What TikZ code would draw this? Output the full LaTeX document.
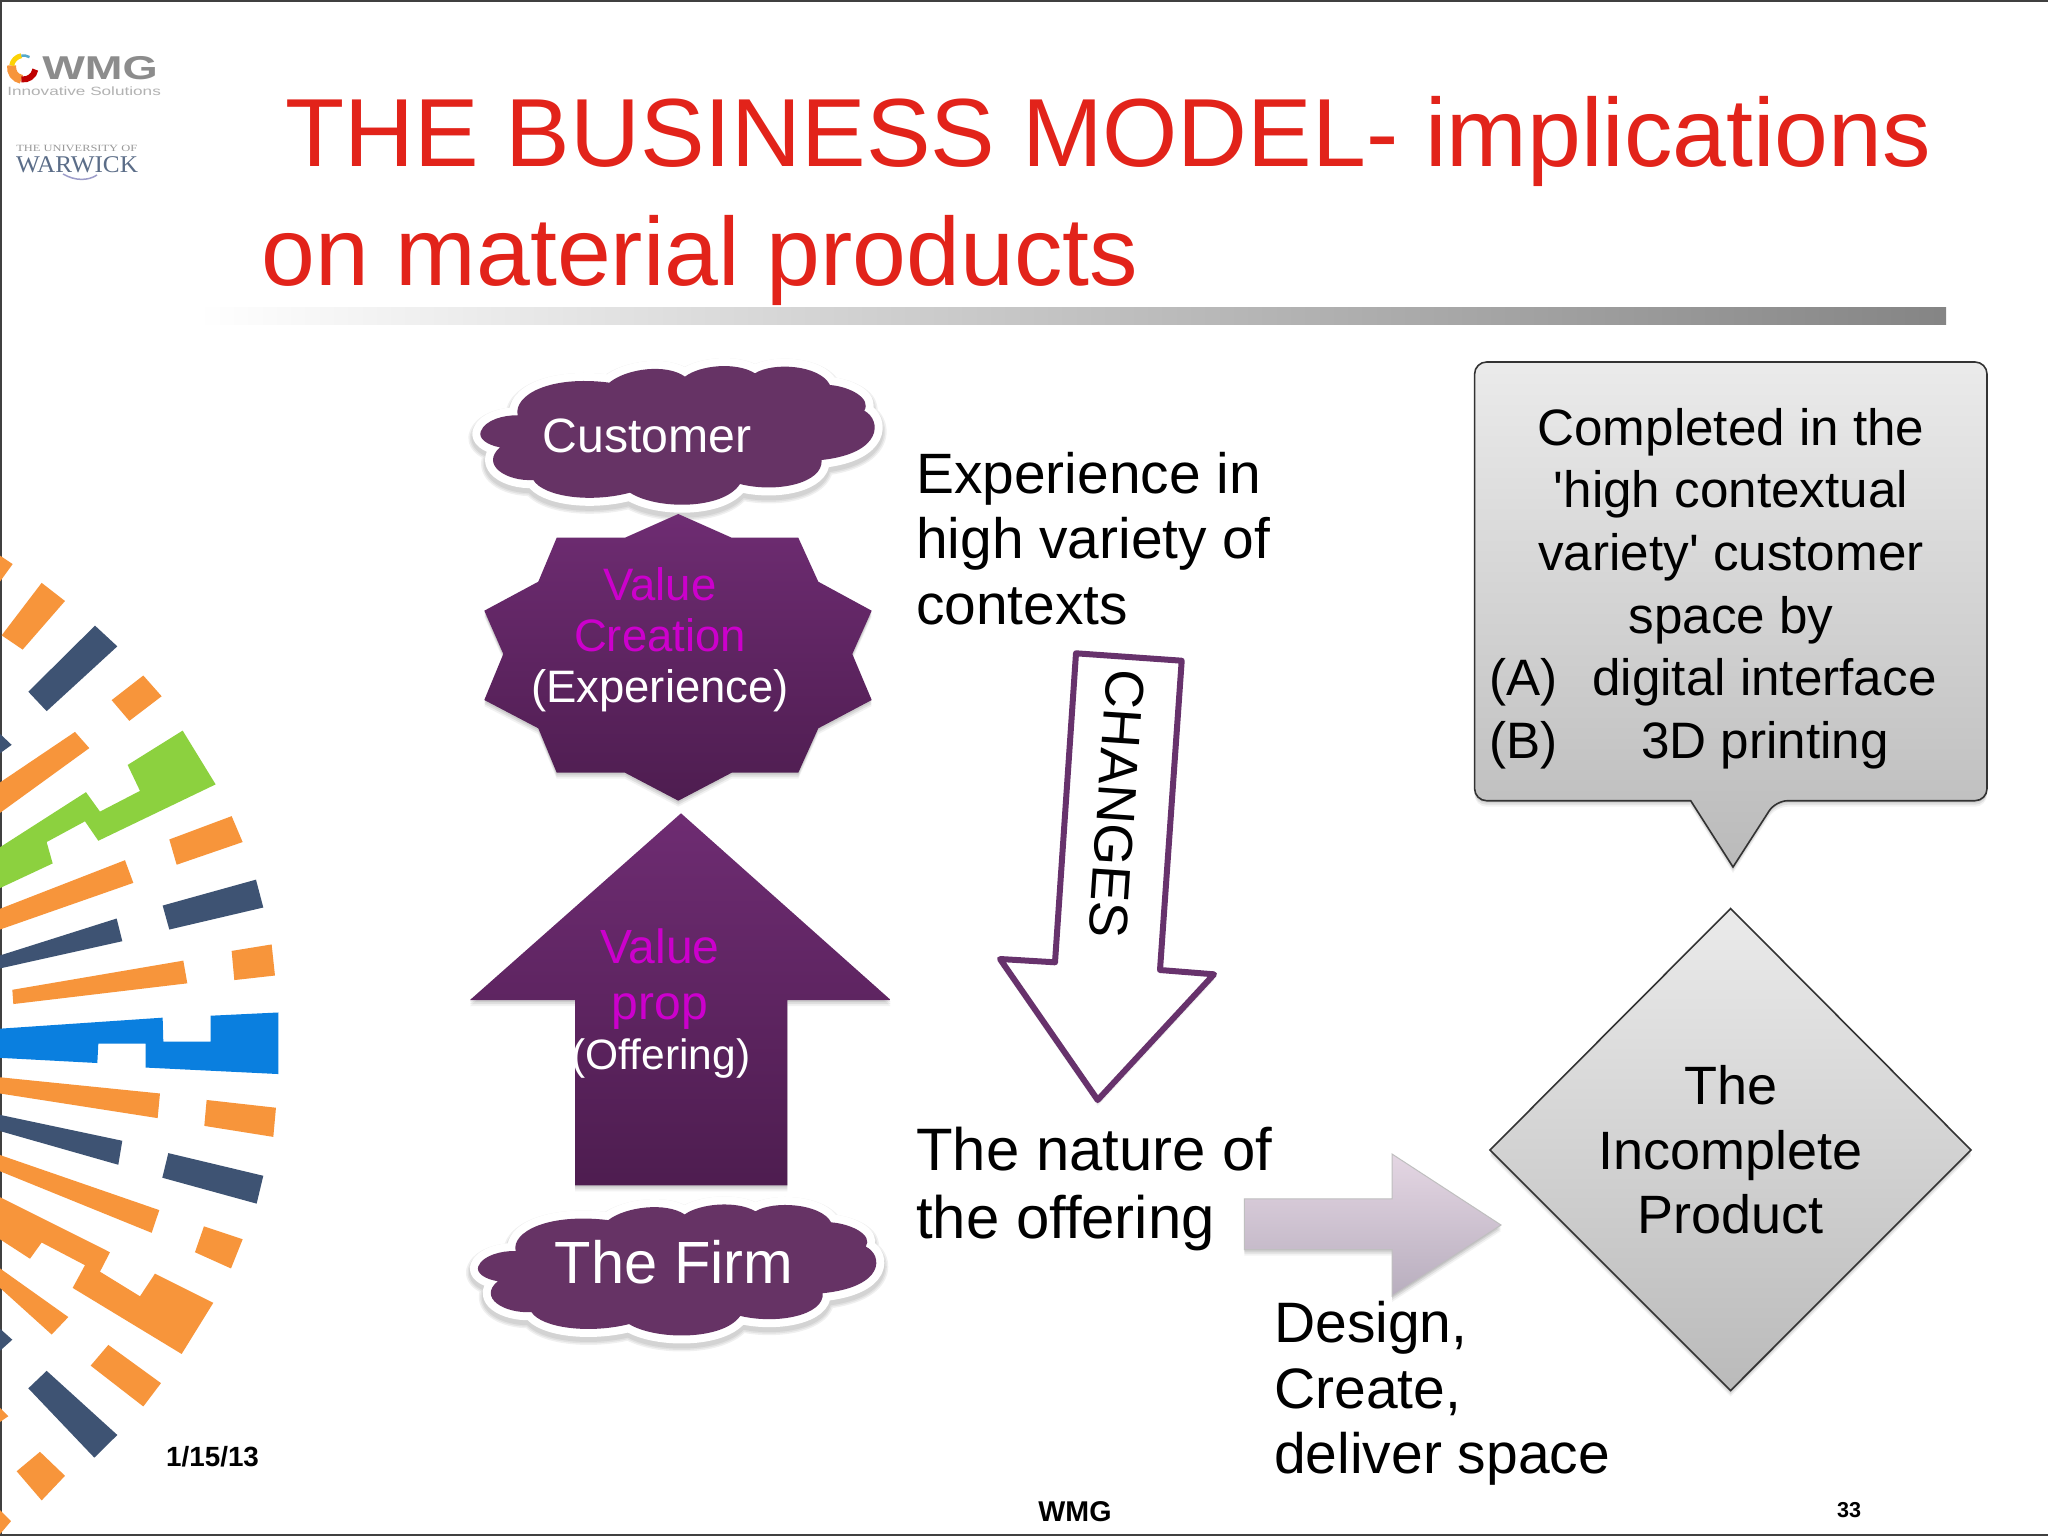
\documentclass[tikz,border=0pt]{standalone}
\usepackage{fontspec}
\setmainfont{Liberation Sans}
\newfontfamily\crestfont{Liberation Serif}
\usetikzlibrary{shadows}

\definecolor{titlered}{HTML}{E2231A}
\definecolor{plumtop}{HTML}{6E2C72}
\definecolor{plumlow}{HTML}{4E1D50}
\definecolor{cloudplum}{HTML}{663365}
\definecolor{valuepink}{HTML}{CC00CC}
\definecolor{outlineplum}{HTML}{67326C}
\definecolor{liliactop}{HTML}{E4D6E3}
\definecolor{liliaclow}{HTML}{B8AEBE}
\definecolor{streakorange}{HTML}{F7953B}
\definecolor{streaknavy}{HTML}{3E5373}
\definecolor{streakgreen}{HTML}{8CD13F}
\definecolor{streakblue}{HTML}{0A7FDF}

\tikzset{
	softshadow/.style={
		drop shadow={shadow xshift=0pt,shadow yshift=-2pt,opacity=.08,fill=black},
		drop shadow={shadow xshift=0pt,shadow yshift=-4pt,opacity=.08,fill=black},
		drop shadow={shadow xshift=0pt,shadow yshift=-6pt,opacity=.05,fill=black}},
	plumshape/.style={top color=plumtop,bottom color=plumlow,softshadow},
	greyshape/.style={draw=black!80,line width=1.6pt,top color=black!8,bottom color=black!27,softshadow},
	lefttext/.style={inner sep=0pt,align=left,anchor=base west,text=black},
	midtext/.style={inner sep=0pt,align=center,anchor=base},
}

% one puff outline, traced around the Customer puff
\newcommand{\puffpath}{(92,275) .. controls (105,240) and (160,225) .. (203,226)
	.. controls (190,165) and (300,105) .. (478,128)
	.. controls (530,85) and (650,70) .. (705,110)
	.. controls (750,75) and (860,65) .. (915,100)
	.. controls (970,65) and (1110,75) .. (1140,135)
	.. controls (1200,140) and (1265,175) .. (1243,212)
	.. controls (1295,240) and (1300,340) .. (1115,360)
	.. controls (1120,430) and (980,460) .. (870,432)
	.. controls (820,510) and (620,510) .. (540,458)
	.. controls (420,490) and (280,470) .. (250,420)
	.. controls (170,425) and (90,375) .. (150,322)
	.. controls (110,315) and (85,295) .. (92,275) -- cycle}
\newcommand{\puff}[3]{
	\begin{scope}[shift={#1},x=#2,y=#3]
	\foreach \wd in {24,21,18} {
		\draw[black,opacity=.06,line width=\wd pt,line join=round,transform canvas={yshift=-4pt}] \puffpath;
	}
	\draw[white,line width=16pt,line join=round] \puffpath;
	\fill[cloudplum] \puffpath;
	\end{scope}
}

\begin{document}
\begin{tikzpicture}[x=1pt,y=-1pt]
\useasboundingbox (0,0) rectangle (2048,1536);
\fill[white] (0,0) rectangle (2048,1536);

% slide edge
\draw[black!75,line width=2pt] (1,1536) -- (1,1) -- (2048,1);
\draw[black!75,line width=2pt] (0,1535) -- (2048,1535);

% sunburst, coordinates as measured in a crop
\begin{scope}[shift={(0,520)},x=.3333pt,y=-.648pt]
\fill[streakorange] (0,55) -- (38,68) -- (0,95) -- cycle;
\fill[streakorange] (5,178) -- (125,97) -- (195,125) -- (68,200) -- cycle;
\fill[streaknavy] (85,265) -- (285,163) -- (352,195) -- (140,295) -- cycle;
\fill[streakorange] (335,278) -- (430,240) -- (485,272) -- (388,310) -- cycle;
\fill[streaknavy] (0,330) -- (35,347) -- (0,360) -- cycle;
\fill[streakorange] (0,405) -- (225,327) -- (268,352) -- (0,452) -- cycle;
\fill[streakgreen] (0,505) -- (258,420) -- (300,450) -- (420,418) -- (383,378) -- (548,325) -- (647,408) -- (295,495) -- (255,465) -- (140,497) -- (158,530) -- (0,568) -- cycle;
\fill[streakorange] (508,493) -- (695,457) -- (728,497) -- (530,532) -- cycle;
\fill[streakorange] (0,600) -- (375,525) -- (400,560) -- (0,632) -- cycle;
\fill[streaknavy] (488,595) -- (768,555) -- (790,598) -- (508,632) -- cycle;
\fill[streaknavy] (0,672) -- (350,615) -- (367,650) -- (0,692) -- cycle;
\fill[streakorange] (695,665) -- (815,655) -- (825,703) -- (703,710) -- cycle;
\fill[streakorange] (37,725) -- (550,680) -- (562,715) -- (40,747) -- cycle;
\fill[streakblue] (0,785) -- (488,768) -- (490,805) -- (632,805) -- (632,765) -- (835,760) -- (835,855) -- (437,845) -- (437,808) -- (295,808) -- (292,838) -- (0,830) -- cycle;
\fill[streakorange] (0,860) -- (480,885) -- (473,923) -- (0,885) -- cycle;
\fill[streakorange] (620,895) -- (828,907) -- (820,952) -- (613,935) -- cycle;
\fill[streaknavy] (0,918) -- (367,958) -- (355,995) -- (0,943) -- cycle;
\fill[streaknavy] (505,977) -- (790,1012) -- (770,1055) -- (487,1015) -- cycle;
\fill[streakorange] (0,980) -- (478,1065) -- (455,1100) -- (0,1005) -- cycle;
\fill[streakorange] (612,1090) -- (728,1110) -- (693,1155) -- (585,1130) -- cycle;
\fill[streakorange] (0,1045) -- (330,1130) -- (300,1160) -- (420,1198) -- (465,1163) -- (640,1208) -- (545,1287) -- (218,1185) -- (255,1150) -- (125,1115) -- (90,1140) -- (0,1110) -- cycle;
\fill[streakorange] (0,1155) -- (205,1230) -- (155,1257) -- (0,1185) -- cycle;
\fill[streaknavy] (0,1248) -- (37,1265) -- (0,1282) -- cycle;
\fill[streakorange] (325,1273) -- (483,1332) -- (430,1368) -- (272,1305) -- cycle;
\fill[streaknavy] (140,1313) -- (352,1412) -- (283,1447) -- (85,1340) -- cycle;
\fill[streakorange] (0,1370) -- (25,1383) -- (0,1392) -- cycle;
\fill[streakorange] (120,1438) -- (195,1475) -- (125,1513) -- (50,1468) -- cycle;
\fill[streakorange] (0,1528) -- (33,1545) -- (0,1565) -- cycle;
\end{scope}

% logos
\foreach \tone/\from/\to/\wd in {streakorange/170/260/9,red!75!black/260/350/6,yellow!70!orange/100/170/5,cyan!60!gray/60/100/2.5} {
	\draw[\tone,line width=\wd pt] (23.5,67.5) ++(\from:12pt) arc[start angle=\from,end angle=\to,radius=12pt];
}
\node[lefttext,text=black!45,font=\fontsize{33}{33}\selectfont\bfseries,xscale=1.37] (wmgmark) at (42,80) {WMG};
\node[lefttext,text=black!30,font=\fontsize{12}{12}\selectfont,xscale=1.43] (wmgline) at (7,96) {Innovative Solutions};
\node[lefttext,text=black!40,font=\fontsize{9.5}{9.5}\selectfont\crestfont,xscale=1.31] (uniline) at (16,151) {THE UNIVERSITY OF};
\node[lefttext,text=streaknavy!85,font=\fontsize{24}{24}\selectfont\crestfont,xscale=1.05] (warwick) at (16,172) {WARWICK};
\draw[blue!30!gray!60,line width=1.5pt] (63,174) .. controls (75,181) and (88,181) .. (97,175);

% title and rule under it
\node[lefttext,text=titlered,font=\fontsize{96.8}{96.8}\selectfont] (titlea) at (285,167) {THE BUSINESS MODEL- implications};
\node[lefttext,text=titlered,font=\fontsize{96.8}{96.8}\selectfont] (titleb) at (261,285) {on material products};
\shade[left color=white,right color=black!48] (198,307) rectangle (1946,324);

% left column
\puff{(450,340)}{.3333pt}{-.3333pt}
\puff{(447.3,1179.8)}{.3367pt}{-.315pt}
\node[midtext,text=white,font=\fontsize{48.2}{48.2}\selectfont] (customer) at (647,452) {Customer};
\node[midtext,text=white,font=\fontsize{59.6}{59.6}\selectfont] (firm) at (674,1283) {The Firm};

\path[plumshape] (678.3,514) -- (731.7,537.7) -- (798.3,537.7) -- (818.3,581.7) -- (871.7,610.7) -- (852.3,654) -- (871.7,700) -- (818.3,728.3) -- (798.3,772.7) -- (731.7,772.7) -- (678.3,800.7) -- (625,772.7) -- (556.7,772.7) -- (538.3,728.3) -- (484.3,700) -- (503.3,654) -- (484.3,610.7) -- (538.3,581.7) -- (556.7,537.7) -- (625,537.7) -- cycle;
\node[midtext,font=\fontsize{45.5}{51}\selectfont] (creation) at (660,702) {\textcolor{valuepink}{Value}\\\textcolor{valuepink}{Creation}\\\textcolor{white}{(Experience)}};

\path[plumshape] (681,813.3) -- (890.7,1000) -- (787.3,1000) -- (787.3,1185.3) -- (575,1185.3) -- (575,1000) -- (470,1000) -- cycle;
\node[midtext,text=valuepink,font=\fontsize{48}{56}\selectfont] (valueprop) at (660,1019) {Value\\prop};
\node[midtext,text=white,font=\fontsize{42.5}{42.5}\selectfont] (offering) at (661,1069) {(Offering)};

% middle column
\node[lefttext,font=\fontsize{56.9}{65.6}\selectfont] (contexts) at (916,624.5) {Experience in\\high variety of\\contexts};
\path[draw=outlineplum,line width=6pt,line join=round,fill=white,softshadow] (1076,653.3) -- (1181.7,660.7) -- (1160,970) -- (1214,974.3) -- (1097.7,1100) -- (1000,959) -- (1055,962.3) -- cycle;
\node[inner sep=0pt,rotate=-93.9,font=\fontsize{54.3}{54.3}\selectfont] (changes) at (1116.7,804) {CHANGES};
\node[lefttext,font=\fontsize{59.9}{68}\selectfont] (nature) at (916,1238) {The nature of\\the offering};
\path[draw=black!25,line width=1pt,top color=liliactop,bottom color=liliaclow,softshadow] (1244.4,1198.8) -- (1392,1198.8) -- (1392,1154) -- (1501,1225) -- (1392,1296) -- (1392,1249.5) -- (1244.4,1249.5) -- cycle;
\node[lefttext,font=\fontsize{57}{65.5}\selectfont] (design) at (1274,1473.5) {Design,\\Create,\\deliver space};

% right column
\path[greyshape,rounded corners=12pt] (1474.6,362) -- (1987,362) -- (1987,800.7) -- (1775.7,800.7) [sharp corners] -- (1733,867) -- (1690.7,800.7) [rounded corners=12pt] -- (1474.6,800.7) -- cycle;
\node[midtext,font=\fontsize{51.2}{62.6}\selectfont] (completed) at (1731,633) {Completed in the\\\textquotesingle high contextual\\variety\textquotesingle{} customer\\space by};
\node[lefttext,font=\fontsize{51.2}{51.2}\selectfont] (optiona) at (1489.5,695) {(A)};
\node[lefttext,font=\fontsize{51.2}{51.2}\selectfont] (digital) at (1592,695) {digital interface};
\node[lefttext,font=\fontsize{51.2}{51.2}\selectfont] (optionb) at (1489.5,758) {(B)};
\node[lefttext,font=\fontsize{51.2}{51.2}\selectfont] (printing) at (1641,758) {3D printing};
\path[greyshape] (1730.6,908.5) -- (1971,1150) -- (1730.6,1390.5) -- (1490,1150) -- cycle;
\node[midtext,font=\fontsize{54}{64.5}\selectfont] (incomplete) at (1730.6,1233.6) {The\\Incomplete\\Product};

% footer
\node[lefttext,font=\fontsize{27.8}{27.8}\selectfont\bfseries] (datemark) at (166,1466) {1/15/13};
\node[midtext,font=\fontsize{28.6}{28.6}\selectfont\bfseries] (footmark) at (1075,1521) {WMG};
\node[midtext,font=\fontsize{21.6}{21.6}\selectfont\bfseries] (pagemark) at (1849,1517) {33};
\end{tikzpicture}
\end{document}
